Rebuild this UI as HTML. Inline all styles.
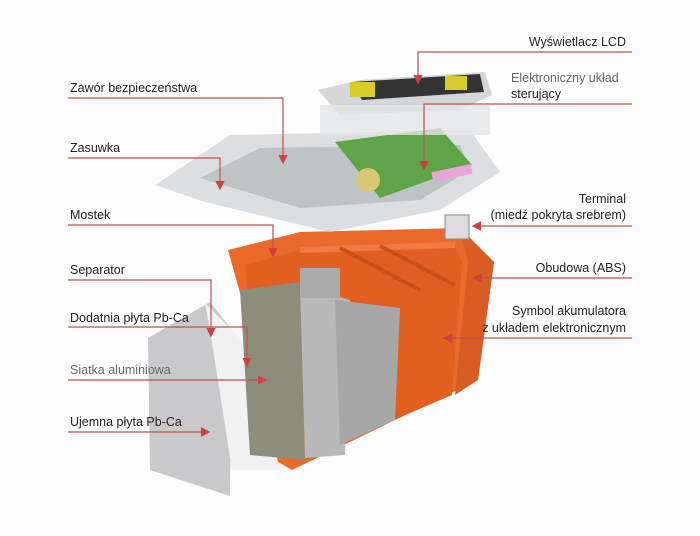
<!DOCTYPE html>
<html><head><meta charset="utf-8"><style>
html,body{margin:0;padding:0;background:#fff}
#c{position:relative;width:700px;height:536px;overflow:hidden;background:#fdfdfd;font-family:"Liberation Sans","DejaVu Sans",sans-serif}
.t{position:absolute;font-size:12.5px;color:#222;white-space:nowrap;line-height:15px}
.r{text-align:right}
</style></head><body><div id="c">
<svg width="700" height="536" style="position:absolute;left:0;top:0">
<defs><marker id="a" markerWidth="8" markerHeight="8" refX="6" refY="4" orient="auto"><path d="M0,0 L8,4 L0,8 z" fill="#d04040"/></marker></defs>
<!-- left negative plate -->
<polygon points="148,338 210,302 232,330 230,496 150,470" fill="#c9c9cc"/>
<polygon points="205,303 270,368 282,470 232,470 210,330" fill="#f1f1f1"/>
<!-- battery case -->
<polygon points="228,250 300,232 460,228 494,262 478,380 292,470 278,462 242,300" fill="#ea6a2c"/>
<polygon points="460,228 494,262 478,380 455,395 468,262" fill="#d95d22"/>
<polygon points="245,265 300,250 455,245 462,262 452,395 300,460 260,455" fill="#e25f22"/>
<line x1="300" y1="250" x2="455" y2="245" stroke="#f07a40" stroke-width="6"/>
<line x1="340" y1="248" x2="420" y2="290" stroke="#c84f18" stroke-width="4"/>
<line x1="380" y1="246" x2="455" y2="285" stroke="#c84f18" stroke-width="4"/>
<!-- plates -->
<polygon points="240,290 300,282 305,460 250,455" fill="#8d8d7e"/>
<polygon points="300,285 350,300 345,455 305,458" fill="#b9b9b9"/>
<polygon points="335,300 400,308 395,420 340,445" fill="#a7a7a7"/>
<rect x="300" y="268" width="40" height="30" fill="#aaa"/>
<rect x="445" y="215" width="24" height="24" fill="#ddd" stroke="#888"/>
<!-- lid -->
<polygon points="155,185 230,135 470,130 500,172 440,210 330,232 205,202" fill="#d6d9dc" opacity=".85"/>
<polygon points="200,178 260,148 460,145 470,170 420,200 300,208" fill="#a6abae" opacity=".55"/>
<polygon points="335,142 440,128 472,165 380,198" fill="#5fa548"/>
<circle cx="368" cy="180" r="12" fill="#d9c873"/>
<rect x="432" y="168" width="40" height="10" fill="#e6a6d6" transform="rotate(-12 452 173)"/>
<!-- LCD unit -->
<polygon points="318,90 360,80 485,72 492,95 460,110 340,115" fill="#d4d6d8"/>
<polygon points="352,82 480,74 484,92 362,100" fill="#333"/>
<rect x="350" y="82" width="25" height="15" fill="#d8cc2a"/>
<rect x="445" y="76" width="22" height="14" fill="#d8cc2a"/>
<rect x="320" y="105" width="170" height="30" fill="#e3e5e6" opacity=".8"/>
<g stroke="#c0504d" stroke-width="1.2" fill="none" marker-end="url(#a)">
<polyline points="68,98 283,98 283,162"/>
<polyline points="68,158 220,158 220,188"/>
<polyline points="68,225 273,225 273,255"/>
<polyline points="68,280 211,280 211,335"/>
<polyline points="68,327 247,327 247,365"/>
<polyline points="68,380 265,380"/>
<polyline points="68,432 208,432"/>
<polyline points="632,52 418,52 418,82"/>
<polyline points="632,104 424,104 424,168"/>
<polyline points="632,226 474,226"/>
<polyline points="632,278 475,278"/>
<polyline points="632,338 445,338"/>
</g>
</svg>
<div class="t" style="left:70px;top:81px">Zawór bezpieczeństwa</div>
<div class="t" style="left:70px;top:141px">Zasuwka</div>
<div class="t" style="left:70px;top:208px">Mostek</div>
<div class="t" style="left:70px;top:263px">Separator</div>
<div class="t" style="left:70px;top:311px">Dodatnia płyta Pb-Ca</div>
<div class="t" style="left:70px;top:363px;color:#666">Siatka aluminiowa</div>
<div class="t" style="left:70px;top:415px">Ujemna płyta Pb-Ca</div>
<div class="t r" style="right:74px;top:35px">Wyświetlacz LCD</div>
<div class="t" style="left:511px;top:71px;color:#666">Elektroniczny układ</div>
<div class="t" style="left:511px;top:87px">sterujący</div>
<div class="t r" style="right:74px;top:192px">Terminal</div>
<div class="t r" style="right:74px;top:208px">(miedź pokryta srebrem)</div>
<div class="t r" style="right:74px;top:261px">Obudowa (ABS)</div>
<div class="t r" style="right:74px;top:304px">Symbol akumulatora</div>
<div class="t r" style="right:74px;top:321px">z układem elektronicznym</div>
</div></body></html>
